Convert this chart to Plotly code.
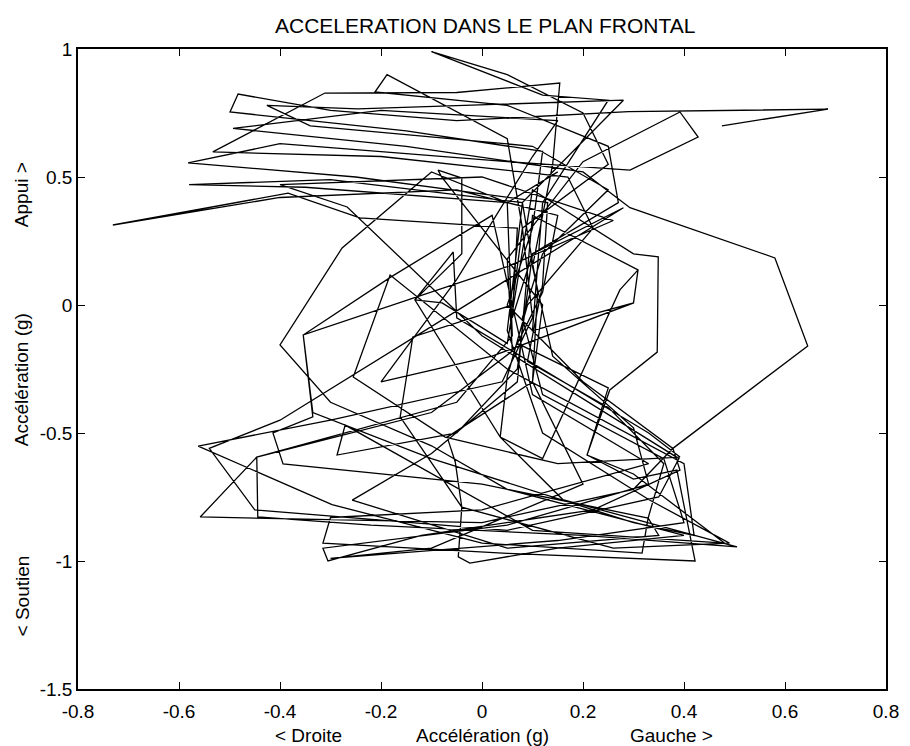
import plotly.graph_objects as go

# Lateral (x) and vertical (y) acceleration, in g
stride_a_x = [0.475, 0.685, 0.29, -0.05, -0.30, -0.483, -0.499, -0.15, 0.12, 0.10, 0.05, 0.20, 0.378, 0.392, 0.22, -0.12, -0.305, -0.315, 0.05, 0.33, 0.30, 0.14, 0.10,
              0.14, 0.154, -0.05, -0.311, -0.533, -0.20, 0.17, 0.22, 0.09, 0.05, 0.036, 0.16, 0.505, 0.20, -0.22, -0.444, -0.446, -0.10, 0.06, 0.05]
stride_a_y = [0.70, 0.765, 0.755, 0.72, 0.76, 0.824, 0.754, 0.68, 0.60, 0.30, 0.0, -0.30, -0.56, -0.645, -0.80, -0.90, -1.0, -0.95, -0.86, -0.70, -0.48, -0.20, 0.15,
              0.55, 0.867, 0.83, 0.828, 0.598, 0.58, 0.50, 0.30, 0.0, -0.28, -0.516, -0.76, -0.945, -0.90, -0.86, -0.828, -0.594, -0.42, -0.18, 0.18]

stride_b_x = [0.20, 0.392, 0.428, 0.293, 0.05, -0.40, -0.582, -0.25, 0.13, 0.12, 0.09, 0.25, 0.36, 0.329, 0.317, 0.00, -0.297, -0.562, -0.30, 0.04, 0.10, 0.08,
              0.05, -0.188, -0.212, 0.05, 0.25, 0.27, 0.10, 0.06, 0.07, -0.242, -0.384, -0.731, -0.40, -0.05, 0.15, 0.12, 0.07, 0.25, 0.208, 0.30, 0.48, 0.10,
              -0.271, -0.287, -0.05, 0.07, 0.10]
stride_b_y = [0.56, 0.754, 0.656, 0.527, 0.56, 0.63, 0.555, 0.50, 0.40, 0.08, -0.22, -0.40, -0.62, -0.832, -0.969, -0.93, -0.78, -0.551, -0.45, -0.30, -0.05, 0.30,
              0.65, 0.90, 0.832, 0.78, 0.62, 0.40, 0.20, -0.05, 0.30, 0.34, 0.437, 0.3125, 0.42, 0.45, 0.35, 0.05, -0.15, -0.324, -0.586, -0.66, -0.93, -0.88,
              -0.469, -0.586, -0.50, -0.25, 0.20]

stride_c_x = [0.15, -0.20, -0.493, -0.15, 0.20, 0.293, 0.58, 0.645, 0.378, 0.30, 0.0, -0.558, -0.446, -0.05, 0.06, 0.05,
              -0.10, -0.277, -0.40, -0.30, -0.10, 0.05, 0.40, 0.15, -0.024, -0.047, -0.04, -0.053, -0.069, 0.10, 0.12, -0.08, -0.087, -0.04, -0.04,
              -0.133, -0.079, 0.05, 0.10]
stride_c_y = [0.72, 0.76, 0.69, 0.62, 0.52, 0.38, 0.184, -0.16, -0.56, -0.72, -0.85, -0.828, -0.594, -0.38, -0.12, 0.40,
              0.52, 0.223, -0.156, -0.38, -0.55, -0.72, -0.90, -0.95, -1.008, -0.984, -0.79, -0.613, -0.516, -0.30, 0.0, 0.50, 0.527, 0.496, 0.20,
              0.02, 0.008, -0.15, 0.45]

stride_d_x = [0.30, 0.349, 0.347, 0.253, 0.208, 0.30, 0.386, 0.422, 0.05, -0.315, -0.30, 0.00, 0.33, 0.10,
              0.02, -0.18, -0.354, -0.335, -0.414, -0.394, 0.00, 0.329, 0.35, 0.05, -0.257, -0.10, 0.07, 0.10, 0.309, 0.30, 0.10, 0.12, 0.25, 0.12,
              -0.10, 0.05, 0.20, 0.25, 0.08, 0.06]
stride_d_y = [0.20, 0.188, -0.184, -0.332, -0.586, -0.68, -0.645, -1.0, -0.97, -0.93, -0.83, -0.80, -0.62, -0.35,
              0.35, 0.11, -0.117, -0.437, -0.50, -0.621, -0.70, -0.832, -0.90, -0.95, -0.762, -0.58, -0.30, 0.35, 0.137, 0.008, -0.10, 0.40, 0.80, 0.82,
              0.99, 0.90, 0.75, 0.55, 0.30, 0.00]

stride_e_x = [-0.137, -0.162, -0.04, 0.26, 0.49, 0.33, 0.12, 0.05, 0.08, 0.28, -0.246, -0.426, -0.34, 0.10, 0.25, 0.12, 0.08, 0.12, 0.36,
              0.40, 0.15, -0.30, -0.10, 0.20, 0.10, 0.11, 0.08, -0.30, -0.58, -0.35, 0.05, 0.15]
stride_e_y = [-0.125, -0.437, -0.79, -0.95, -0.93, -0.76, -0.50, -0.10, 0.40, 0.80, 0.766, 0.78, 0.70, 0.62, 0.45, 0.20, -0.05, -0.35, -0.60,
              -0.85, -0.92, -0.99, -0.95, -0.70, -0.30, 0.05, 0.40, 0.49, 0.47, 0.46, 0.40, 0.52]

stride_f_x = [0.28, -0.40, -0.54, -0.45, 0.05, 0.35, 0.39, 0.00, -0.267, -0.40, 0.00, 0.26, 0.05, -0.354, -0.335, -0.10, 0.30, 0.42, 0.40,
              0.05, -0.182, -0.255, -0.073, 0.15, 0.392, 0.33, -0.05, -0.057, -0.133, 0.036, 0.12, 0.273, 0.309, 0.30, 0.02, -0.20, -0.05, 0.10]
stride_f_y = [0.38, -0.45, -0.56, -0.80, -0.88, -0.75, -0.60, -0.12, 0.383, 0.47, 0.50, 0.33, 0.15, -0.117, -0.42, -0.60, -0.85, -0.90, -0.62,
              -0.25, 0.117, -0.281, -0.516, -0.62, -0.594, -0.50, -0.05, 0.207, 0.02, -0.516, -0.60, 0.059, 0.137, 0.008, -0.20, -0.30, 0.10, 0.58]

x_ticks = [-0.8, -0.6, -0.4, -0.2, 0, 0.2, 0.4, 0.6, 0.8]
x_tick_labels = ["-0.8", "-0.6", "-0.4", "-0.2", "0", "0.2", "0.4", "0.6", "0.8"]
y_ticks = [-1.5, -1, -0.5, 0, 0.5, 1]
y_tick_labels = ["-1.5", "-1", "-0.5", "0", "0.5", "1"]

xs = stride_a_x + stride_b_x + stride_f_x + stride_c_x + stride_d_x + stride_e_x
ys = stride_a_y + stride_b_y + stride_f_y + stride_c_y + stride_d_y + stride_e_y

FONT = "Liberation Sans, Arial, sans-serif"

fig = go.Figure(go.Scatter(x=xs, y=ys, mode="lines",
                           line=dict(color="black", width=1.3),
                           hoverinfo="skip", showlegend=False))

axis_common = dict(showgrid=False, zeroline=False, showline=True, linecolor="black",
                   linewidth=1.5, mirror="ticks", ticks="inside", ticklen=7,
                   tickcolor="black", tickwidth=1,
                   tickfont=dict(family=FONT, size=19, color="black"))

fig.update_xaxes(range=[-0.8, 0.8], tickvals=x_ticks, ticktext=x_tick_labels,
                 ticklabelstandoff=4, **axis_common)
fig.update_yaxes(range=[-1.5, 1], tickvals=y_ticks, ticktext=y_tick_labels, **axis_common)

ann = []
def label(text, x, y, angle=0, size=19):
    ann.append(dict(text=text, x=x, y=y, xref="paper", yref="paper", showarrow=False,
                    textangle=angle, xanchor="center", yanchor="middle",
                    font=dict(family=FONT, size=size, color="black")))

label("ACCELERATION DANS LE PLAN FRONTAL", 0.504, 1.036, size=21)
label("< Droite", 0.285, -0.072)
label("Accélération (g)", 0.501, -0.072)
label("Gauche >", 0.735, -0.072)
label("Appui >", -0.069, 0.772, -90)
label("Accélération (g)", -0.069, 0.483, -90)
label("< Soutien", -0.069, 0.145, -90)

fig.update_layout(width=910, height=746, margin=dict(l=78, r=24, t=49, b=57),
                  paper_bgcolor="white", plot_bgcolor="white", annotations=ann,
                  font=dict(family=FONT, size=19, color="black"))

fig.write_html("out.html")
